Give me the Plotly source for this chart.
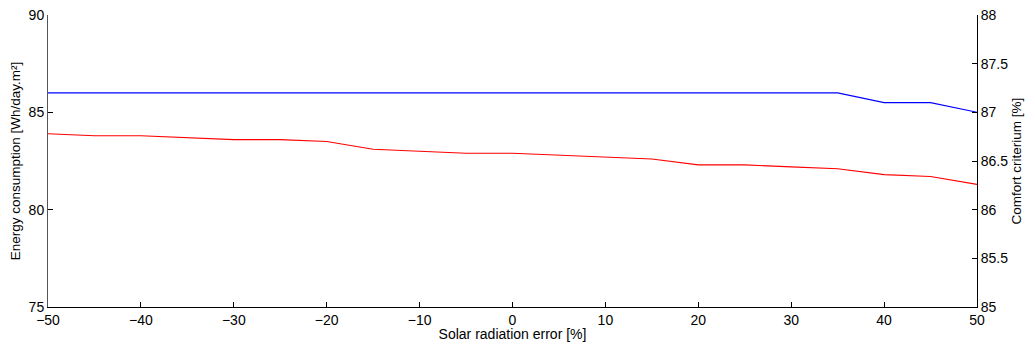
import plotly.graph_objects as go

solar_error = [-50, -45, -40, -35, -30, -25, -20, -15, -10, -5, 0, 5, 10, 15, 20, 25, 30, 35, 40, 45, 50]
energy = [83.9, 83.8, 83.8, 83.7, 83.6, 83.6, 83.5, 83.1, 83.0, 82.9, 82.9, 82.8, 82.7, 82.6, 82.3, 82.3, 82.2, 82.1, 81.8, 81.7, 81.3]
comfort = [87.2] * 18 + [87.1, 87.1, 87.0]

font = "Liberation Sans, Arial, sans-serif"

fig = go.Figure()
fig.add_trace(go.Scatter(x=solar_error, y=energy, mode="lines", line=dict(color="#ff0000", width=1.1),
                         name="Energy", yaxis="y"))
fig.add_trace(go.Scatter(x=solar_error, y=comfort, mode="lines", line=dict(color="#0000ff", width=1.1),
                         name="Comfort", yaxis="y2"))

fig.update_layout(
    width=1019, height=334,
    margin=dict(l=40, r=50, t=7, b=35, autoexpand=False),
    paper_bgcolor="white", plot_bgcolor="white",
    showlegend=False,
    font=dict(family=font, size=14, color="black"),
    xaxis=dict(range=[-50, 50], tickmode="array", tickvals=list(range(-50, 51, 10)),
               ticks="inside", ticklen=5, tickcolor="black", showline=True, linecolor="black", linewidth=1,
               showgrid=False, zeroline=False, mirror=False, automargin=False, ticklabeloverflow="allow",
               title=dict(text="Solar radiation error [%]", font=dict(size=14), standoff=5)),
    yaxis=dict(range=[75, 90], tickvals=[75, 80, 85, 90], ticks="inside", ticklen=5, tickcolor="black",
               showline=True, linecolor="#555555", linewidth=1, showgrid=False, zeroline=False, automargin=False,
               ticklabeloverflow="allow",
               title=dict(text="Energy consumption [Wh/day.m²]", font=dict(size=13.5), standoff=6)),
    yaxis2=dict(range=[85, 88], tickvals=[85, 85.5, 86, 86.5, 87, 87.5, 88], ticks="inside", ticklen=5,
                tickcolor="black", overlaying="y", side="right", showline=True, linecolor="black", linewidth=1,
                showgrid=False, zeroline=False, automargin=False, ticklabeloverflow="allow",
                title=dict(text="Comfort criterium [%]", font=dict(size=13.5), standoff=4)),
)

fig.write_html("out.html")
